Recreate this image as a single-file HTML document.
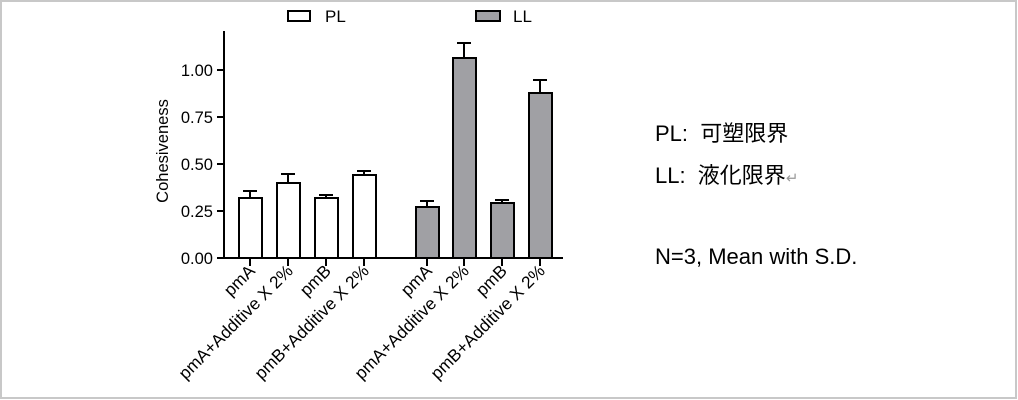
<!DOCTYPE html>
<html><head><meta charset="utf-8"><style>
html,body{margin:0;padding:0;background:#fff;}
svg{display:block;}
</style></head><body>
<svg width="1018" height="400" xmlns="http://www.w3.org/2000/svg" font-family="Liberation Sans, Arial, sans-serif">
<rect x="1" y="1" width="1015" height="397" fill="#fff" stroke="#c8c8c8" stroke-width="2"/>
<!-- legend -->
<rect x="288" y="11" width="22" height="10" fill="#fff" stroke="#000" stroke-width="2"/>
<text x="325" y="22" font-size="17">PL</text>
<rect x="476" y="11" width="24" height="10" fill="#a0a0a4" stroke="#000" stroke-width="2"/>
<text x="513" y="22" font-size="17">LL</text>
<!-- axes -->
<g stroke="#000" stroke-width="2" fill="none">
<line x1="224" y1="31" x2="224" y2="259"/>
<line x1="217" y1="258" x2="563" y2="258"/>
<line x1="217" y1="211" x2="224" y2="211"/>
<line x1="217" y1="164" x2="224" y2="164"/>
<line x1="217" y1="117" x2="224" y2="117"/>
<line x1="217" y1="70" x2="224" y2="70"/>
</g>
<g font-size="16.5" text-anchor="end">
<text x="213" y="264">0.00</text>
<text x="213" y="217">0.25</text>
<text x="213" y="170">0.50</text>
<text x="213" y="123">0.75</text>
<text x="213" y="76">1.00</text>
</g>
<text transform="translate(168,151) rotate(-90)" font-size="16.5" text-anchor="middle">Cohesiveness</text>
<!-- bars -->
<g stroke="#000" stroke-width="2">
<line x1="250" y1="198" x2="250" y2="191"/><line x1="243" y1="191" x2="257" y2="191"/>
<line x1="288" y1="183" x2="288" y2="174"/><line x1="281" y1="174" x2="295" y2="174"/>
<line x1="326" y1="198" x2="326" y2="195"/><line x1="319" y1="195" x2="333" y2="195"/>
<line x1="364" y1="175" x2="364" y2="171"/><line x1="357" y1="171" x2="371" y2="171"/>
<line x1="427" y1="207" x2="427" y2="201"/><line x1="420" y1="201" x2="434" y2="201"/>
<line x1="464" y1="58" x2="464" y2="43"/><line x1="457" y1="43" x2="471" y2="43"/>
<line x1="502" y1="203" x2="502" y2="200"/><line x1="495" y1="200" x2="509" y2="200"/>
<line x1="540" y1="93" x2="540" y2="80"/><line x1="533" y1="80" x2="547" y2="80"/>
<rect x="239" y="198" width="23" height="60" fill="#fff"/>
<rect x="277" y="183" width="23" height="75" fill="#fff"/>
<rect x="315" y="198" width="23" height="60" fill="#fff"/>
<rect x="353" y="175" width="23" height="83" fill="#fff"/>
<rect x="416" y="207" width="23" height="51" fill="#a0a0a4"/>
<rect x="453" y="58" width="23" height="200" fill="#a0a0a4"/>
<rect x="491" y="203" width="23" height="55" fill="#a0a0a4"/>
<rect x="529" y="93" width="23" height="165" fill="#a0a0a4"/>
<line x1="250" y1="258" x2="250" y2="266"/>
<line x1="288" y1="258" x2="288" y2="266"/>
<line x1="326" y1="258" x2="326" y2="266"/>
<line x1="364" y1="258" x2="364" y2="266"/>
<line x1="427" y1="258" x2="427" y2="266"/>
<line x1="464" y1="258" x2="464" y2="266"/>
<line x1="502" y1="258" x2="502" y2="266"/>
<line x1="540" y1="258" x2="540" y2="266"/>
</g>
<g font-size="17.3" text-anchor="end">
<text transform="translate(256,272) rotate(-45)">pmA</text>
<text transform="translate(294,272) rotate(-45)">pmA+Additive X 2%</text>
<text transform="translate(332,272) rotate(-45)">pmB</text>
<text transform="translate(370,272) rotate(-45)">pmB+Additive X 2%</text>
<text transform="translate(433,272) rotate(-45)">pmA</text>
<text transform="translate(470,272) rotate(-45)">pmA+Additive X 2%</text>
<text transform="translate(508,272) rotate(-45)">pmB</text>
<text transform="translate(546,272) rotate(-45)">pmB+Additive X 2%</text>
</g>
<g font-size="22" font-family="Liberation Sans, Noto Sans CJK JP, sans-serif">
<text x="655" y="141">PL:&#160;&#160;可塑限界</text>
<text x="655" y="183">LL:&#160;&#160;液化限界<tspan fill="#999" font-size="15">↵</tspan></text>
<text x="655" y="264">N=3, Mean with S.D.</text>
</g>
</svg>
</body></html>
